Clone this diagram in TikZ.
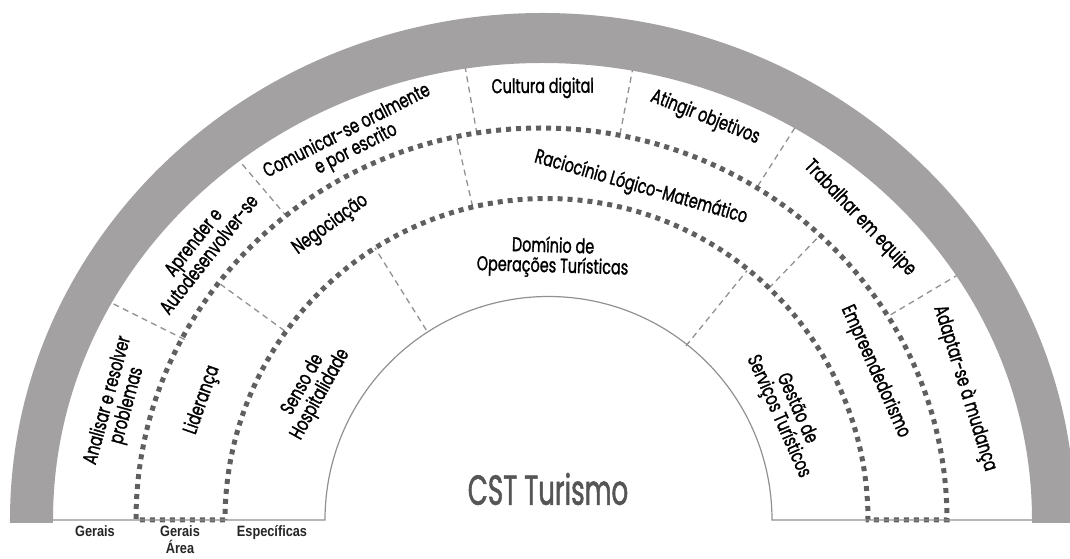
\documentclass[tikz,border=0pt]{standalone}
\usepackage{fontspec}
\setmainfont{Poppins}[FakeStretch=0.72,FakeBold=1.3]
\newfontfamily\titlefont{Poppins}[FakeStretch=0.62,FakeBold=1.2]
\newfontfamily\narrowfont{Liberation Sans}[FakeStretch=0.85]
\usetikzlibrary{positioning}
\definecolor{bandgray}{RGB}{163,161,161}
\definecolor{dotgray}{RGB}{95,95,95}
\definecolor{linegray}{RGB}{145,145,145}
\definecolor{titlegray}{RGB}{85,85,85}

\begin{document}
\begin{tikzpicture}[x=1pt,y=1pt,
    dotring/.style={dotgray,line width=5pt,dash pattern=on 5pt off 5pt},
    divider/.style={linegray,line width=1.3pt,dash pattern=on 6pt off 4.5pt},
    skill/.style={font=\fontsize{20}{20}\selectfont,text=black,align=center,inner sep=0pt},
    level/.style={font=\narrowfont\bfseries\fontsize{15}{17}\selectfont,text=black!85,align=center,anchor=north,inner sep=0pt}]
  \useasboundingbox (-545,-39) rectangle (525,520);

  % dividers between the skills
  \foreach \a/\r/\R in {153.4/403/495, 130.4/398/495, 100/392/495, 79/393/495,
                        57.5/396/495, 30.7/402/495,
                        144/322/401, 103/322/392.5, 46/322/398,
                        122/224/321, 51/224/321}
    \draw[divider] (\a:\r) -- (\a:\R);

  % gray band
  \fill[bandgray] (-535,-3) -- (-535,0)
    arc[start angle=180,end angle=0,x radius=532.5,y radius=507] -- (530,-3)
    -- (487,-3) -- (487,0)
    arc[start angle=0,end angle=180,x radius=489.5,y radius=457] -- (-492,-3) -- cycle;

  % level rings
  \draw[dotring] (-320,0) -- (-409,0)
    arc[start angle=180,end angle=0,x radius=405.5,y radius=392] -- (323,0)
    arc[start angle=0,end angle=180,radius=321.5] -- cycle;
  \draw[linegray,line width=1.2pt] (-492,0) -- (-220,0)
    arc[start angle=180,end angle=0,radius=223.5] -- (487,0);

  \foreach \a/\r/\txt [count=\i] in {
      164.7/443/{Analisar e resolver\\problemas},
      141.7/439/{Aprender e\\Autodesenvolver-se},
      117/426/{Comunicar-se oralmente\\e por escrito},
      90.3/432/{Cultura digital},
      68.3/433/{Atingir objetivos},
      43.8/436/{Trabalhar em equipe},
      17.4/440/{Adaptar-se à mudança},
      160.7/363/{Liderança},
      126/365/{Negociação},
      73.9/346/{Raciocínio Lógico-Matemático},
      24.2/362/{Empreendedorismo},
      150.8/267/{Senso de\\Hospitalidade},
      88.3/263/{Domínio de\\Operações Turísticas},
      23.9/265/{Gestão de\\Serviços Turísticos}}
    \node[skill,rotate=\a-90] (skill-\i) at (\a:\r) {\txt};

  \node[font=\titlefont\fontsize{42}{42}\selectfont,text=titlegray] (curso) at (3,31) {CST Turismo};

  \node[level] (gerais) at (-450,-5) {Gerais};
  \node[level] (gerais-area) at (-365,-5) {Gerais\\Área};
  \node[level] (especificas) at (-273,-5) {Específicas};
\end{tikzpicture}
\end{document}
